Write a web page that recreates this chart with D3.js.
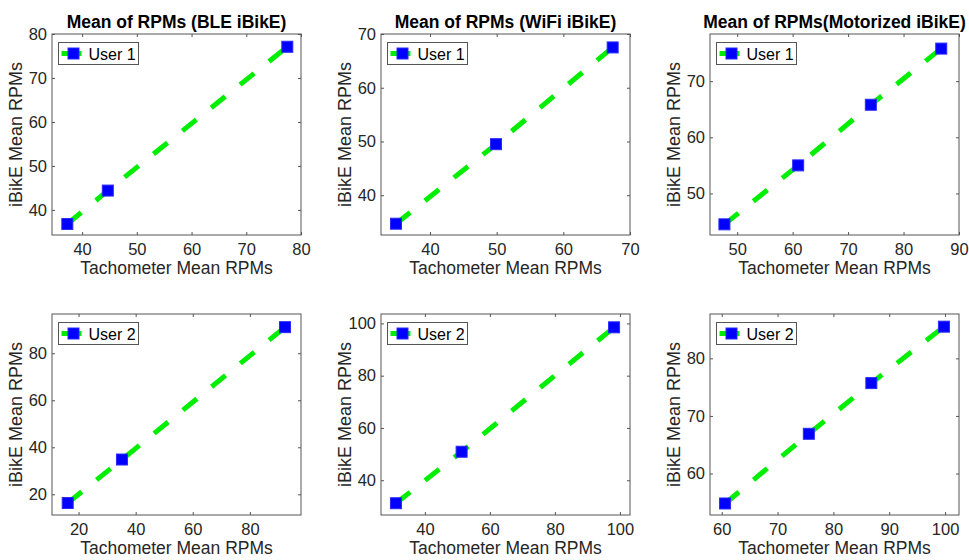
<!DOCTYPE html>
<html>
<head>
<meta charset="utf-8">
<script src="https://cdn.jsdelivr.net/npm/d3@7"></script>
<style>
  body { margin: 0; background: #fff; }
  svg { display: block; font-family: "Liberation Sans", Arial, sans-serif; }
</style>
</head>
<body>
<div id="chart"></div>
<script>
// values
var titles = ["Mean of RPMs (BLE iBikE)", "Mean of RPMs (WiFi iBikE)", "Mean of RPMs(Motorized iBikE)"];
var users = ["User 1", "User 2"];

var ble_u1_x = [37.3, 44.7, 77.5], ble_u1_y = [36.8, 44.4, 77.1];
var wifi_u1_x = [34.9, 49.9, 67.4], wifi_u1_y = [34.7, 49.5, 67.5];
var mot_u1_x = [47.7, 61.0, 74.1, 86.8], mot_u1_y = [44.5, 55.0, 65.8, 75.8];
var ble_u2_x = [16.2, 35.2, 92.3], ble_u2_y = [16.3, 34.8, 91.1];
var wifi_u2_x = [31.1, 51.3, 98.2], wifi_u2_y = [31.2, 50.9, 98.5];
var mot_u2_x = [60.6, 75.6, 86.8, 99.8], mot_u2_y = [54.8, 66.9, 75.7, 85.5];

// axis limits and ticks, per panel (row major)
var x_limits = [[34.5, 80], [32.65, 70], [45.1, 90], [10.7, 97.9], [26.5, 103.1], [57.9, 102.5]];
var y_limits = [[34.3, 80], [32.6, 70], [42.6, 78.4], [11.2, 96.7], [26.7, 103.6], [52.8, 87.7]];
var x_ticks = [[40, 50, 60, 70, 80], [40, 50, 60, 70], [50, 60, 70, 80, 90], [20, 40, 60, 80], [40, 60, 80, 100], [60, 70, 80, 90, 100]];
var y_ticks = [[40, 50, 60, 70, 80], [40, 50, 60, 70], [50, 60, 70], [20, 40, 60, 80], [40, 60, 80, 100], [60, 70, 80]];

var xs = [ble_u1_x, wifi_u1_x, mot_u1_x, ble_u2_x, wifi_u2_x, mot_u2_x],
    ys = [ble_u1_y, wifi_u1_y, mot_u1_y, ble_u2_y, wifi_u2_y, mot_u2_y];

var width = 969, height = 560,
    col_left = [52, 381, 710],
    row_top = [34, 314],
    box_w = 249,
    box_h = 201,
    text_color = "#262626",
    line_green = "#00ee00",
    marker_blue = "#0000ff";

var svg = d3.select("#chart").append("svg")
    .attr("width", width)
    .attr("height", height);

var DrawPanel = function (i) {
    var row = Math.floor(i / 3), col = i % 3;
    var g = svg.append("g")
        .attr("transform", "translate(" + col_left[col] + "," + row_top[row] + ")");

    var x = d3.scaleLinear().domain(x_limits[i]).range([0, box_w]);
    var y = d3.scaleLinear().domain(y_limits[i]).range([box_h, 0]);

    // axes, ticks pointing inward like matlab
    var bottom = g.append("g").attr("transform", "translate(0," + box_h + ")")
        .call(d3.axisBottom(x).tickValues(x_ticks[i]).tickSizeInner(-3).tickSizeOuter(0).tickPadding(8));
    var left = g.append("g")
        .call(d3.axisLeft(y).tickValues(y_ticks[i]).tickSizeInner(-3).tickSizeOuter(0).tickPadding(5));
    var top = g.append("g")
        .call(d3.axisTop(x).tickValues(x_ticks[i]).tickSizeInner(-3).tickSizeOuter(0).tickFormat(""));
    var right = g.append("g").attr("transform", "translate(" + box_w + ",0)")
        .call(d3.axisRight(y).tickValues(y_ticks[i]).tickSizeInner(-3).tickSizeOuter(0).tickFormat(""));

    [bottom, left, top, right].forEach(function (a) {
        a.select(".domain").remove();
        a.selectAll(".tick line").attr("stroke", "#555");
        a.selectAll(".tick text")
            .attr("fill", text_color)
            .attr("font-size", "16.5px")
            .attr("font-family", "Liberation Sans, Arial, sans-serif");
    });

    g.append("rect")
        .attr("width", box_w)
        .attr("height", box_h)
        .attr("fill", "none")
        .attr("stroke", "#555")
        .attr("stroke-width", 1);

    var pts = xs[i].map(function (v, k) { return [v, ys[i][k]]; });

    g.append("path")
        .datum(pts)
        .attr("fill", "none")
        .attr("stroke", line_green)
        .attr("stroke-width", 5)
        .attr("stroke-dasharray", "18,19")
        .attr("d", d3.line().x(function (d) { return x(d[0]); }).y(function (d) { return y(d[1]); }));

    g.selectAll(".mk")
        .data(pts)
        .enter().append("rect")
        .attr("class", "mk")
        .attr("x", function (d) { return x(d[0]) - 5.5; })
        .attr("y", function (d) { return y(d[1]) - 5.5; })
        .attr("width", 11)
        .attr("height", 11)
        .attr("fill", marker_blue)
        .attr("stroke", "#2a2aff")
        .attr("stroke-width", 1);

    // legend
    var lg = g.append("g").attr("transform", "translate(6.5,8.5)");
    lg.append("rect")
        .attr("width", 80)
        .attr("height", 22)
        .attr("fill", "#fff")
        .attr("stroke", "#555");
    lg.append("line")
        .attr("x1", 3).attr("x2", 23)
        .attr("y1", 11).attr("y2", 11)
        .attr("stroke", line_green)
        .attr("stroke-width", 5);
    lg.append("rect")
        .attr("x", 9.5).attr("y", 5.5)
        .attr("width", 11).attr("height", 11)
        .attr("fill", marker_blue)
        .attr("stroke", "#2a2aff");
    lg.append("text")
        .attr("x", 30)
        .attr("y", 17)
        .attr("font-size", "16px")
        .attr("fill", "#000")
        .text(users[row]);

    if (row == 0) {
        g.append("text")
            .attr("x", box_w / 2)
            .attr("y", -6)
            .attr("text-anchor", "middle")
            .attr("font-size", "17.5px")
            .attr("font-weight", "bold")
            .attr("fill", "#000")
            .text(titles[col]);
    }

    g.append("text")
        .attr("x", box_w / 2)
        .attr("y", box_h + 39)
        .attr("text-anchor", "middle")
        .attr("font-size", "17.5px")
        .attr("fill", text_color)
        .text("Tachometer Mean RPMs");

    g.append("text")
        .attr("transform", "translate(-30," + (box_h / 2) + ") rotate(-90)")
        .attr("text-anchor", "middle")
        .attr("font-size", "18px")
        .attr("fill", text_color)
        .text("iBikE Mean RPMs");
};

for (var i = 0; i < 6; i++) {
    DrawPanel(i);
}
</script>
</body>
</html>
